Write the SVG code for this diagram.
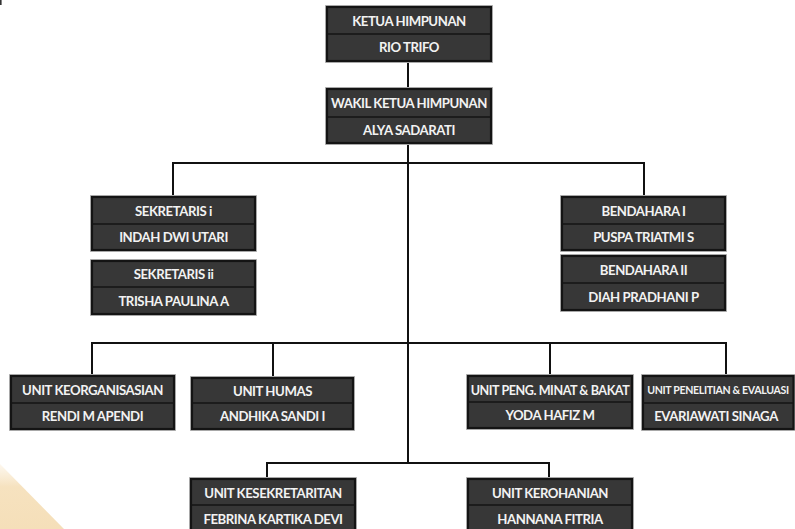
<svg xmlns="http://www.w3.org/2000/svg" width="795" height="529" viewBox="0 0 795 529">
  <defs>
    <linearGradient id="cornerFade" x1="0" y1="0" x2="0" y2="1">
      <stop offset="0" stop-color="#f8e6c8" stop-opacity="0.3"/>
      <stop offset="0.35" stop-color="#f6e2bf" stop-opacity="1"/>
      <stop offset="1" stop-color="#f5dfb9" stop-opacity="1"/>
    </linearGradient>
  </defs>
  <style>
    .halo { fill: none; stroke: #b9b9b9; stroke-width: 1; }
    .box { fill: #373737; stroke: #141414; stroke-width: 2.2; }
    .div { stroke: #141414; stroke-width: 1.6; }
    .t { font-family: "Lato", "Liberation Sans", sans-serif; font-weight: 700; font-size: 13.2px; fill: #f2f2f2; text-anchor: middle; letter-spacing: -0.45px; }
    .wire { fill: none; stroke: #111111; stroke-width: 2; stroke-linejoin: miter; }
  </style>

  <rect width="795" height="529" fill="#ffffff"/>
  <!-- soft corner accent -->
  <polygon points="0,464 64,529 0,529" fill="url(#cornerFade)"/>
  <rect x="0" y="0" width="1.6" height="5" fill="#333333"/>

  <!-- connectors -->
  <g id="connectors" class="wire">
    <path d="M408,60 V89"/>
    <path d="M408,143 V463"/>
    <path d="M173,197 V163 H644 V197"/>
    <path d="M92,376 V343 H726 V376"/>
    <path d="M273,343 V378"/>
    <path d="M550,343 V376"/>
    <path d="M267,479 V463 H549 V479"/>
  </g>

  <g id="ketua">
    <rect class="halo" x="325.5" y="5.5" width="167" height="57"/>
    <rect class="box" x="327" y="7" width="164" height="54"/>
    <line class="div" x1="327" y1="34" x2="491" y2="34"/>
    <text class="t" x="409" y="25.5">KETUA HIMPUNAN</text>
    <text class="t" x="409" y="52">RIO TRIFO</text>
  </g>

  <g id="wakil">
    <rect class="halo" x="325.5" y="87.5" width="167" height="57"/>
    <rect class="box" x="327" y="89" width="164" height="54"/>
    <line class="div" x1="327" y1="117" x2="491" y2="117"/>
    <text class="t" x="409" y="107.5">WAKIL KETUA HIMPUNAN</text>
    <text class="t" x="409" y="134.5">ALYA SADARATI</text>
  </g>

  <g id="sekretaris-1">
    <rect class="halo" x="90.5" y="195.5" width="166" height="56"/>
    <rect class="box" x="92" y="197" width="163" height="53"/>
    <line class="div" x1="92" y1="224" x2="255" y2="224"/>
    <text class="t" x="173.5" y="215.5">SEKRETARIS i</text>
    <text class="t" x="173.5" y="241.5">INDAH DWI UTARI</text>
  </g>

  <g id="sekretaris-2">
    <rect class="halo" x="90.5" y="259.5" width="166" height="56"/>
    <rect class="box" x="92" y="261" width="163" height="53"/>
    <line class="div" x1="92" y1="287" x2="255" y2="287"/>
    <text class="t" x="173.5" y="278.5">SEKRETARIS ii</text>
    <text class="t" x="173.5" y="305.5">TRISHA PAULINA A</text>
  </g>

  <g id="bendahara-1">
    <rect class="halo" x="560.5" y="195.5" width="166" height="56"/>
    <rect class="box" x="562" y="197" width="163" height="53"/>
    <line class="div" x1="562" y1="224" x2="725" y2="224"/>
    <text class="t" x="643.5" y="215.5">BENDAHARA I</text>
    <text class="t" x="643.5" y="241.5">PUSPA TRIATMI  S</text>
  </g>

  <g id="bendahara-2">
    <rect class="halo" x="560.5" y="254.5" width="166" height="57"/>
    <rect class="box" x="562" y="256" width="163" height="54"/>
    <line class="div" x1="562" y1="283" x2="725" y2="283"/>
    <text class="t" x="643.5" y="274.5">BENDAHARA II</text>
    <text class="t" x="643.5" y="301.5">DIAH PRADHANI P</text>
  </g>

  <g id="unit-keorganisasian">
    <rect class="halo" x="9.5" y="374.5" width="166" height="56"/>
    <rect class="box" x="11" y="376" width="163" height="53"/>
    <line class="div" x1="11" y1="403" x2="174" y2="403"/>
    <text class="t" x="92.5" y="394.5">UNIT KEORGANISASIAN</text>
    <text class="t" x="92.5" y="420.5">RENDI M APENDI</text>
  </g>

  <g id="unit-humas">
    <rect class="halo" x="190.5" y="376.5" width="164" height="54"/>
    <rect class="box" x="192" y="378" width="161" height="51"/>
    <line class="div" x1="192" y1="403" x2="353" y2="403"/>
    <text class="t" x="272.5" y="395.5">UNIT HUMAS</text>
    <text class="t" x="272.5" y="420.5">ANDHIKA SANDI I</text>
  </g>

  <g id="unit-minat-bakat">
    <rect class="halo" x="466.5" y="374.5" width="167" height="55"/>
    <rect class="box" x="468" y="376" width="164" height="52"/>
    <line class="div" x1="468" y1="402" x2="632" y2="402"/>
    <text class="t" x="550" y="394.5" style="font-size:12.6px">UNIT PENG. MINAT &amp; BAKAT</text>
    <text class="t" x="550" y="420">YODA HAFIZ M</text>
  </g>

  <g id="unit-penelitian">
    <rect class="halo" x="641.5" y="374.5" width="153" height="56"/>
    <rect class="box" x="643" y="376" width="150.5" height="53"/>
    <line class="div" x1="643" y1="403" x2="793.5" y2="403"/>
    <text class="t" x="718" y="394" style="font-size:10.6px;letter-spacing:-0.35px">UNIT PENELITIAN &amp; EVALUASI</text>
    <text class="t" x="716" y="420.5">EVARIAWATI SINAGA</text>
  </g>

  <g id="unit-kesekretaritan">
    <rect class="halo" x="189.5" y="477.5" width="167" height="60"/>
    <rect class="box" x="191" y="479" width="164" height="57"/>
    <line class="div" x1="191" y1="505" x2="355" y2="505"/>
    <text class="t" x="273" y="497.5">UNIT KESEKRETARITAN</text>
    <text class="t" x="273" y="523.5">FEBRINA KARTIKA DEVI</text>
  </g>

  <g id="unit-kerohanian">
    <rect class="halo" x="466.5" y="477.5" width="167" height="60"/>
    <rect class="box" x="468" y="479" width="164" height="57"/>
    <line class="div" x1="468" y1="505" x2="632" y2="505"/>
    <text class="t" x="550" y="497.5">UNIT KEROHANIAN</text>
    <text class="t" x="550" y="523.5">HANNANA FITRIA</text>
  </g>
</svg>
